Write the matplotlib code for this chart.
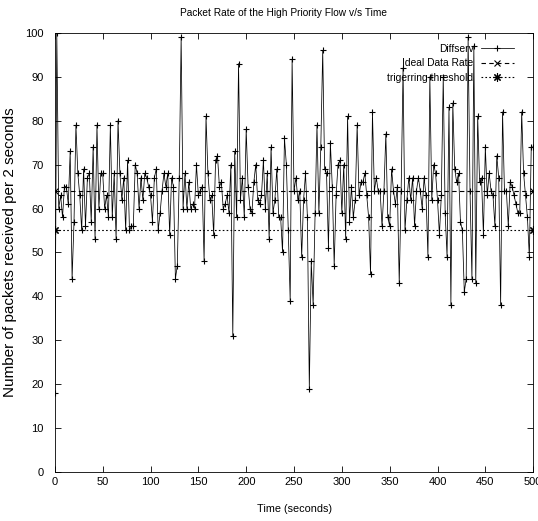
import numpy as np
import matplotlib
matplotlib.use("Agg")
import matplotlib.pyplot as plt

plt.rcParams['font.family'] = ['Liberation Sans', 'DejaVu Sans']

# packets received in each 2 second window
time = np.arange(0, 501, 2)
diffserv = [
    18, 100, 60, 63, 58, 65, 65, 61, 73, 44, 57, 79, 68, 63, 55, 69, 56, 67, 68, 57, 74, 53, 79, 60, 68,
    68, 60, 63, 58, 79, 58, 68, 53, 80, 68, 62, 67, 55, 71, 55, 56, 56, 70, 68, 60, 67, 62, 68, 67, 65,
    63, 57, 67, 69, 55, 59, 64, 68, 65, 68, 54, 67, 65, 44, 47, 67, 99, 60, 68, 60, 66, 60, 61, 60, 70,
    63, 64, 65, 48, 81, 68, 62, 63, 54, 71, 72, 65, 66, 60, 61, 63, 59, 70, 31, 73, 58, 93, 62, 67, 58,
    78, 65, 60, 59, 66, 70, 62, 61, 63, 71, 60, 68, 53, 74, 59, 62, 69, 58, 58, 50, 76, 70, 55, 39, 94,
    64, 67, 62, 64, 49, 62, 68, 58, 19, 48, 38, 59, 79, 59, 74, 96, 69, 68, 51, 75, 65, 47, 63, 70, 71,
    59, 70, 53, 81, 57, 65, 58, 62, 79, 63, 66, 66, 68, 63, 58, 45, 82, 64, 67, 64, 64, 56, 64, 77, 58,
    56, 69, 64, 61, 65, 43, 64, 92, 55, 62, 67, 62, 67, 56, 64, 67, 64, 60, 67, 63, 49, 90, 62, 70, 68,
    62, 54, 63, 90, 59, 49, 83, 38, 84, 69, 66, 68, 57, 55, 41, 44, 99, 64, 44, 97, 43, 81, 66, 67, 54,
    74, 63, 68, 64, 63, 56, 72, 67, 38, 82, 64, 64, 56, 66, 65, 63, 61, 59, 59, 82, 68, 63, 58, 49, 74, 74,
]
ideal_t = [0, 500]
ideal_rate = [64, 64]
threshold_t = [0, 500]
threshold = [55, 55]

x_ticks = np.arange(0, 501, 50)
y_ticks = np.arange(0, 101, 10)

fig = plt.figure(figsize=(5.38, 5.21), dpi=100)
ax = fig.add_axes([0.102, 0.094, 0.889, 0.843])

ax.plot(time, diffserv, color='k', lw=0.55, marker='+', ms=5, mew=0.8, label='Diffserv')
ax.plot(ideal_t, ideal_rate, color='k', lw=0.8, ls=(0, (4, 3)), marker='x', ms=5, mew=0.8,
        label='Ideal Data Rate')
ax.plot(threshold_t, threshold, color='k', lw=0.8, ls=(0, (1.5, 2)), marker=(8, 2, 0), ms=6, mew=0.8,
        label='trigerring threshold')

ax.set_xlim(0, 500)
ax.set_ylim(0, 100)
ax.set_xticks(x_ticks)
ax.set_yticks(y_ticks)
ax.tick_params(direction='in', length=4, width=0.6, top=True, right=True, labelsize=8)
ax.tick_params(axis='y', pad=8)
for s in ax.spines.values():
    s.set_linewidth(0.6)

ax.set_title('Packet Rate of the High Priority Flow v/s Time', fontsize=7.3, pad=12, x=0.479)
ax.set_xlabel('Time (seconds)', fontsize=7.8, labelpad=12)
ax.set_ylabel('Number of packets received per 2 seconds', fontsize=11, labelpad=6)

ax.legend(loc='upper right', frameon=False, markerfirst=False, numpoints=1, fontsize=7.4,
          handlelength=3.2, labelspacing=0.45, borderaxespad=1.5, handletextpad=0.7,
          bbox_to_anchor=(1.0, 1.02))

fig.savefig('out.png', dpi=100)
